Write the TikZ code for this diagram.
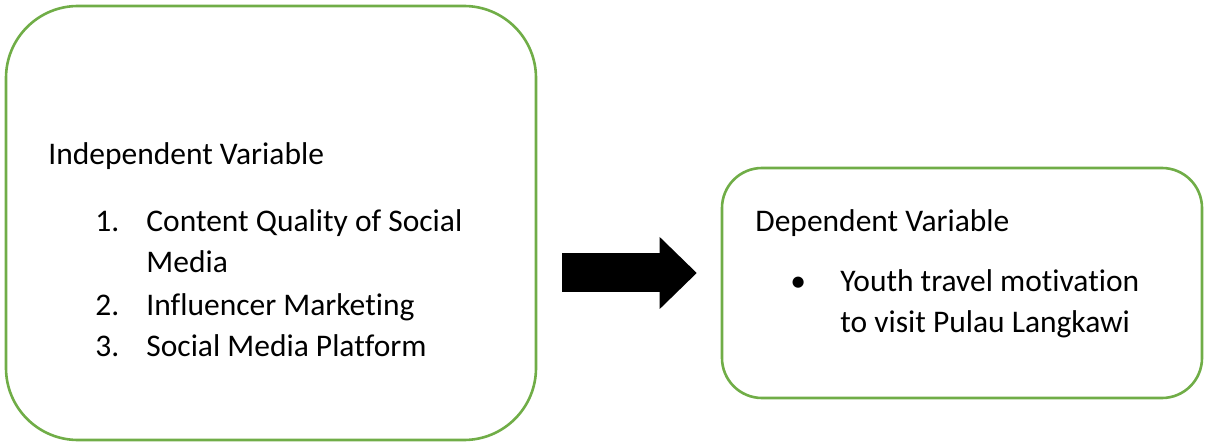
\documentclass[tikz,border=0pt]{standalone}
\usepackage{fontspec}
\setmainfont[RawFeature=-liga]{Carlito}
\usetikzlibrary{arrows.meta}
\definecolor{boxgreen}{HTML}{70AD47}
\begin{document}
\begin{tikzpicture}[x=0.5pt,y=-0.5pt,
	varbox/.style={draw=boxgreen, line width=1.3pt, rectangle, inner sep=0pt},
	txt/.style={anchor=base west, inner sep=0pt, font=\fontsize{15.75}{19}\selectfont},
	blockarrow/.style={line width=19.5pt, -{Triangle[length=18.5pt, width=36pt, line width'=0pt]}}]
	\useasboundingbox (0,0) rectangle (1205,443);

	\node [varbox, rounded corners=36pt, minimum width=265pt, minimum height=217pt] (ind) at (271,223) {};
	\node [txt] (indhead) at (48,165) {Independent Variable};
	\node [txt] (n1) at (95,232) {1.};
	\node [txt] (i1) at (146,232) {Content Quality of Social};
	\node [txt] (i1b) at (146,273) {Media};
	\node [txt] (n2) at (95,315) {2.};
	\node [txt] (i2) at (146,315) {Influencer Marketing};
	\node [txt] (n3) at (95,357) {3.};
	\node [txt] (i3) at (146,357) {Social Media Platform};

	\node [varbox, rounded corners=20pt, minimum width=240pt, minimum height=115pt] (dep) at (962,283) {};
	\node [txt] (dephead) at (755,232) {Dependent Variable};
	\node [txt] (bul) at (790,292) {•};
	\node [txt] (d1) at (840,292) {Youth travel motivation};
	\node [txt] (d1b) at (840,333) {to visit Pulau Langkawi};

	\coordinate (arrS) at ([xshift=12.5pt]ind.east |- 0,273);
	\coordinate (arrE) at ([xshift=-12pt]dep.west |- 0,273);
	\draw [blockarrow] (arrS) -- (arrE);
\end{tikzpicture}
\end{document}
